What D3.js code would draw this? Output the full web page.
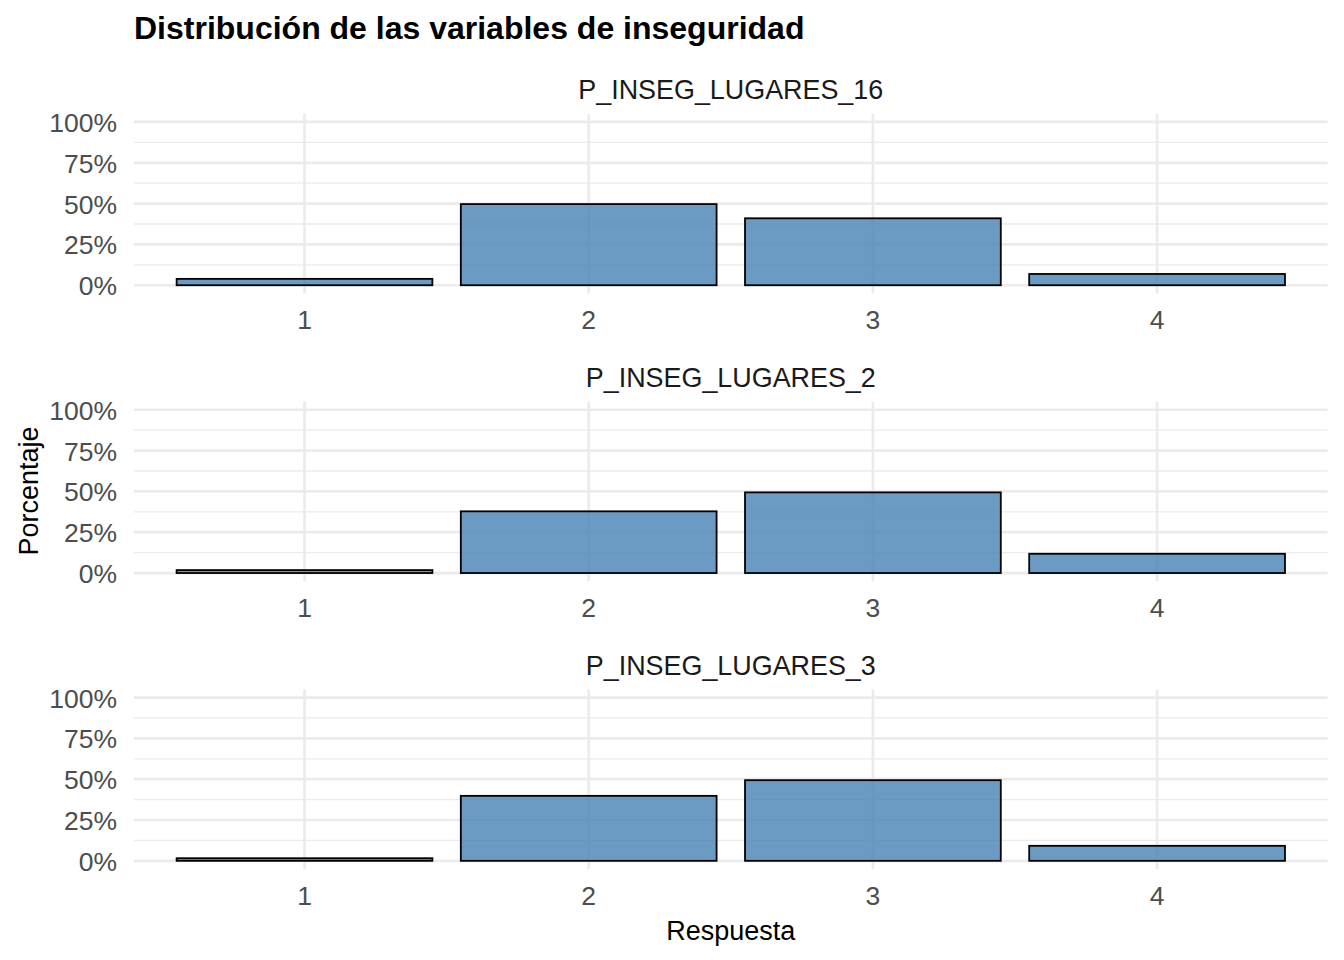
<!DOCTYPE html>
<html>
<head>
<meta charset="utf-8">
<script src="https://cdn.jsdelivr.net/npm/d3@7"></script>
<style>
  html, body { margin: 0; padding: 0; background: #ffffff; }
  svg { display: block; font-family: "Liberation Sans", Arial, sans-serif; }
</style>
</head>
<body>
<svg id="chart" width="1344" height="960"></svg>
<script>
const title = "Distribución de las variables de inseguridad";
const xTitle = "Respuesta";
const yTitle = "Porcentaje";
const categories = ["1", "2", "3", "4"];
const panels = ["P_INSEG_LUGARES_16", "P_INSEG_LUGARES_2", "P_INSEG_LUGARES_3"];
const valuesLugares16 = [3.9, 49.7, 41.0, 6.9];
const valuesLugares2 = [1.8, 37.8, 49.4, 11.8];
const valuesLugares3 = [1.6, 39.8, 49.4, 9.2];
const yTicks = [0, 25, 50, 75, 100];
const yMinorTicks = [12.5, 37.5, 62.5, 87.5];

const panelValues = [valuesLugares16, valuesLugares2, valuesLugares3];

const svg = d3.select("#chart");
const left = 134, right = 1327.6;
const panelTops = [113.8, 401.6, 689.4];
const panelH = 179.6;

// title
svg.append("text")
  .attr("x", 134).attr("y", 39)
  .attr("font-size", 32).attr("font-weight", "bold")
  .attr("fill", "#000")
  .text(title);

const xLin = d3.scaleLinear().domain([0.4, 4.6]).range([left, right]);
const xBand = d3.scaleBand().domain(categories)
  .range([xLin(0.5), xLin(4.5)]).paddingInner(0.1).paddingOuter(0.05);

panels.forEach((name, i) => {
  const top = panelTops[i];
  const bottom = top + panelH;
  const y = d3.scaleLinear().domain([-5, 105]).range([bottom, top]);
  const g = svg.append("g");

  g.selectAll(".minor").data(yMinorTicks).enter().append("line")
    .attr("x1", left).attr("x2", right)
    .attr("y1", d => y(d)).attr("y2", d => y(d))
    .attr("stroke", "#ebebeb").attr("stroke-width", 1.3);
  g.selectAll(".major").data(yTicks).enter().append("line")
    .attr("x1", left).attr("x2", right)
    .attr("y1", d => y(d)).attr("y2", d => y(d))
    .attr("stroke", "#ebebeb").attr("stroke-width", 2.7);
  g.selectAll(".vmajor").data(categories).enter().append("line")
    .attr("x1", d => xBand(d) + xBand.bandwidth() / 2)
    .attr("x2", d => xBand(d) + xBand.bandwidth() / 2)
    .attr("y1", top).attr("y2", bottom)
    .attr("stroke", "#ebebeb").attr("stroke-width", 2.7);

  g.selectAll(".bar").data(panelValues[i]).enter().append("rect")
    .attr("x", (d, j) => xBand(categories[j]))
    .attr("width", xBand.bandwidth())
    .attr("y", d => y(d))
    .attr("height", d => y(0) - y(d))
    .attr("fill", "steelblue").attr("fill-opacity", 0.8)
    .attr("stroke", "#000").attr("stroke-width", 1.8);

  const yAxis = d3.axisLeft(y).tickValues(yTicks).tickFormat(d => d + "%").tickSize(0).tickPadding(0);
  const ya = g.append("g").attr("transform", `translate(${left - 17},0)`).call(yAxis);
  ya.select(".domain").remove();
  ya.selectAll("text").attr("font-size", 26.5).attr("fill", "#4d4d4d")
    .attr("font-family", "Liberation Sans, Arial, sans-serif")
    .attr("dy", "0.36em");

  const xAxis = d3.axisBottom(xBand).tickSize(0).tickPadding(0);
  const xa = g.append("g").attr("transform", `translate(0,${bottom + 17})`).call(xAxis);
  xa.select(".domain").remove();
  xa.selectAll("text").attr("font-size", 26.5).attr("fill", "#4d4d4d")
    .attr("font-family", "Liberation Sans, Arial, sans-serif")
    .attr("dy", "0.71em");

  g.append("text")
    .attr("x", (left + right) / 2).attr("y", top - 24)
    .attr("dy", "0.36em")
    .attr("text-anchor", "middle")
    .attr("font-size", 26.9).attr("fill", "#1a1a1a")
    .text(name);
});

svg.append("text")
  .attr("x", (left + right) / 2).attr("y", 940)
  .attr("text-anchor", "middle")
  .attr("font-size", 27).attr("fill", "#000")
  .text(xTitle);

svg.append("text")
  .attr("transform", "translate(38,491) rotate(-90)")
  .attr("text-anchor", "middle")
  .attr("font-size", 27).attr("fill", "#000")
  .text(yTitle);
</script>
</body>
</html>
